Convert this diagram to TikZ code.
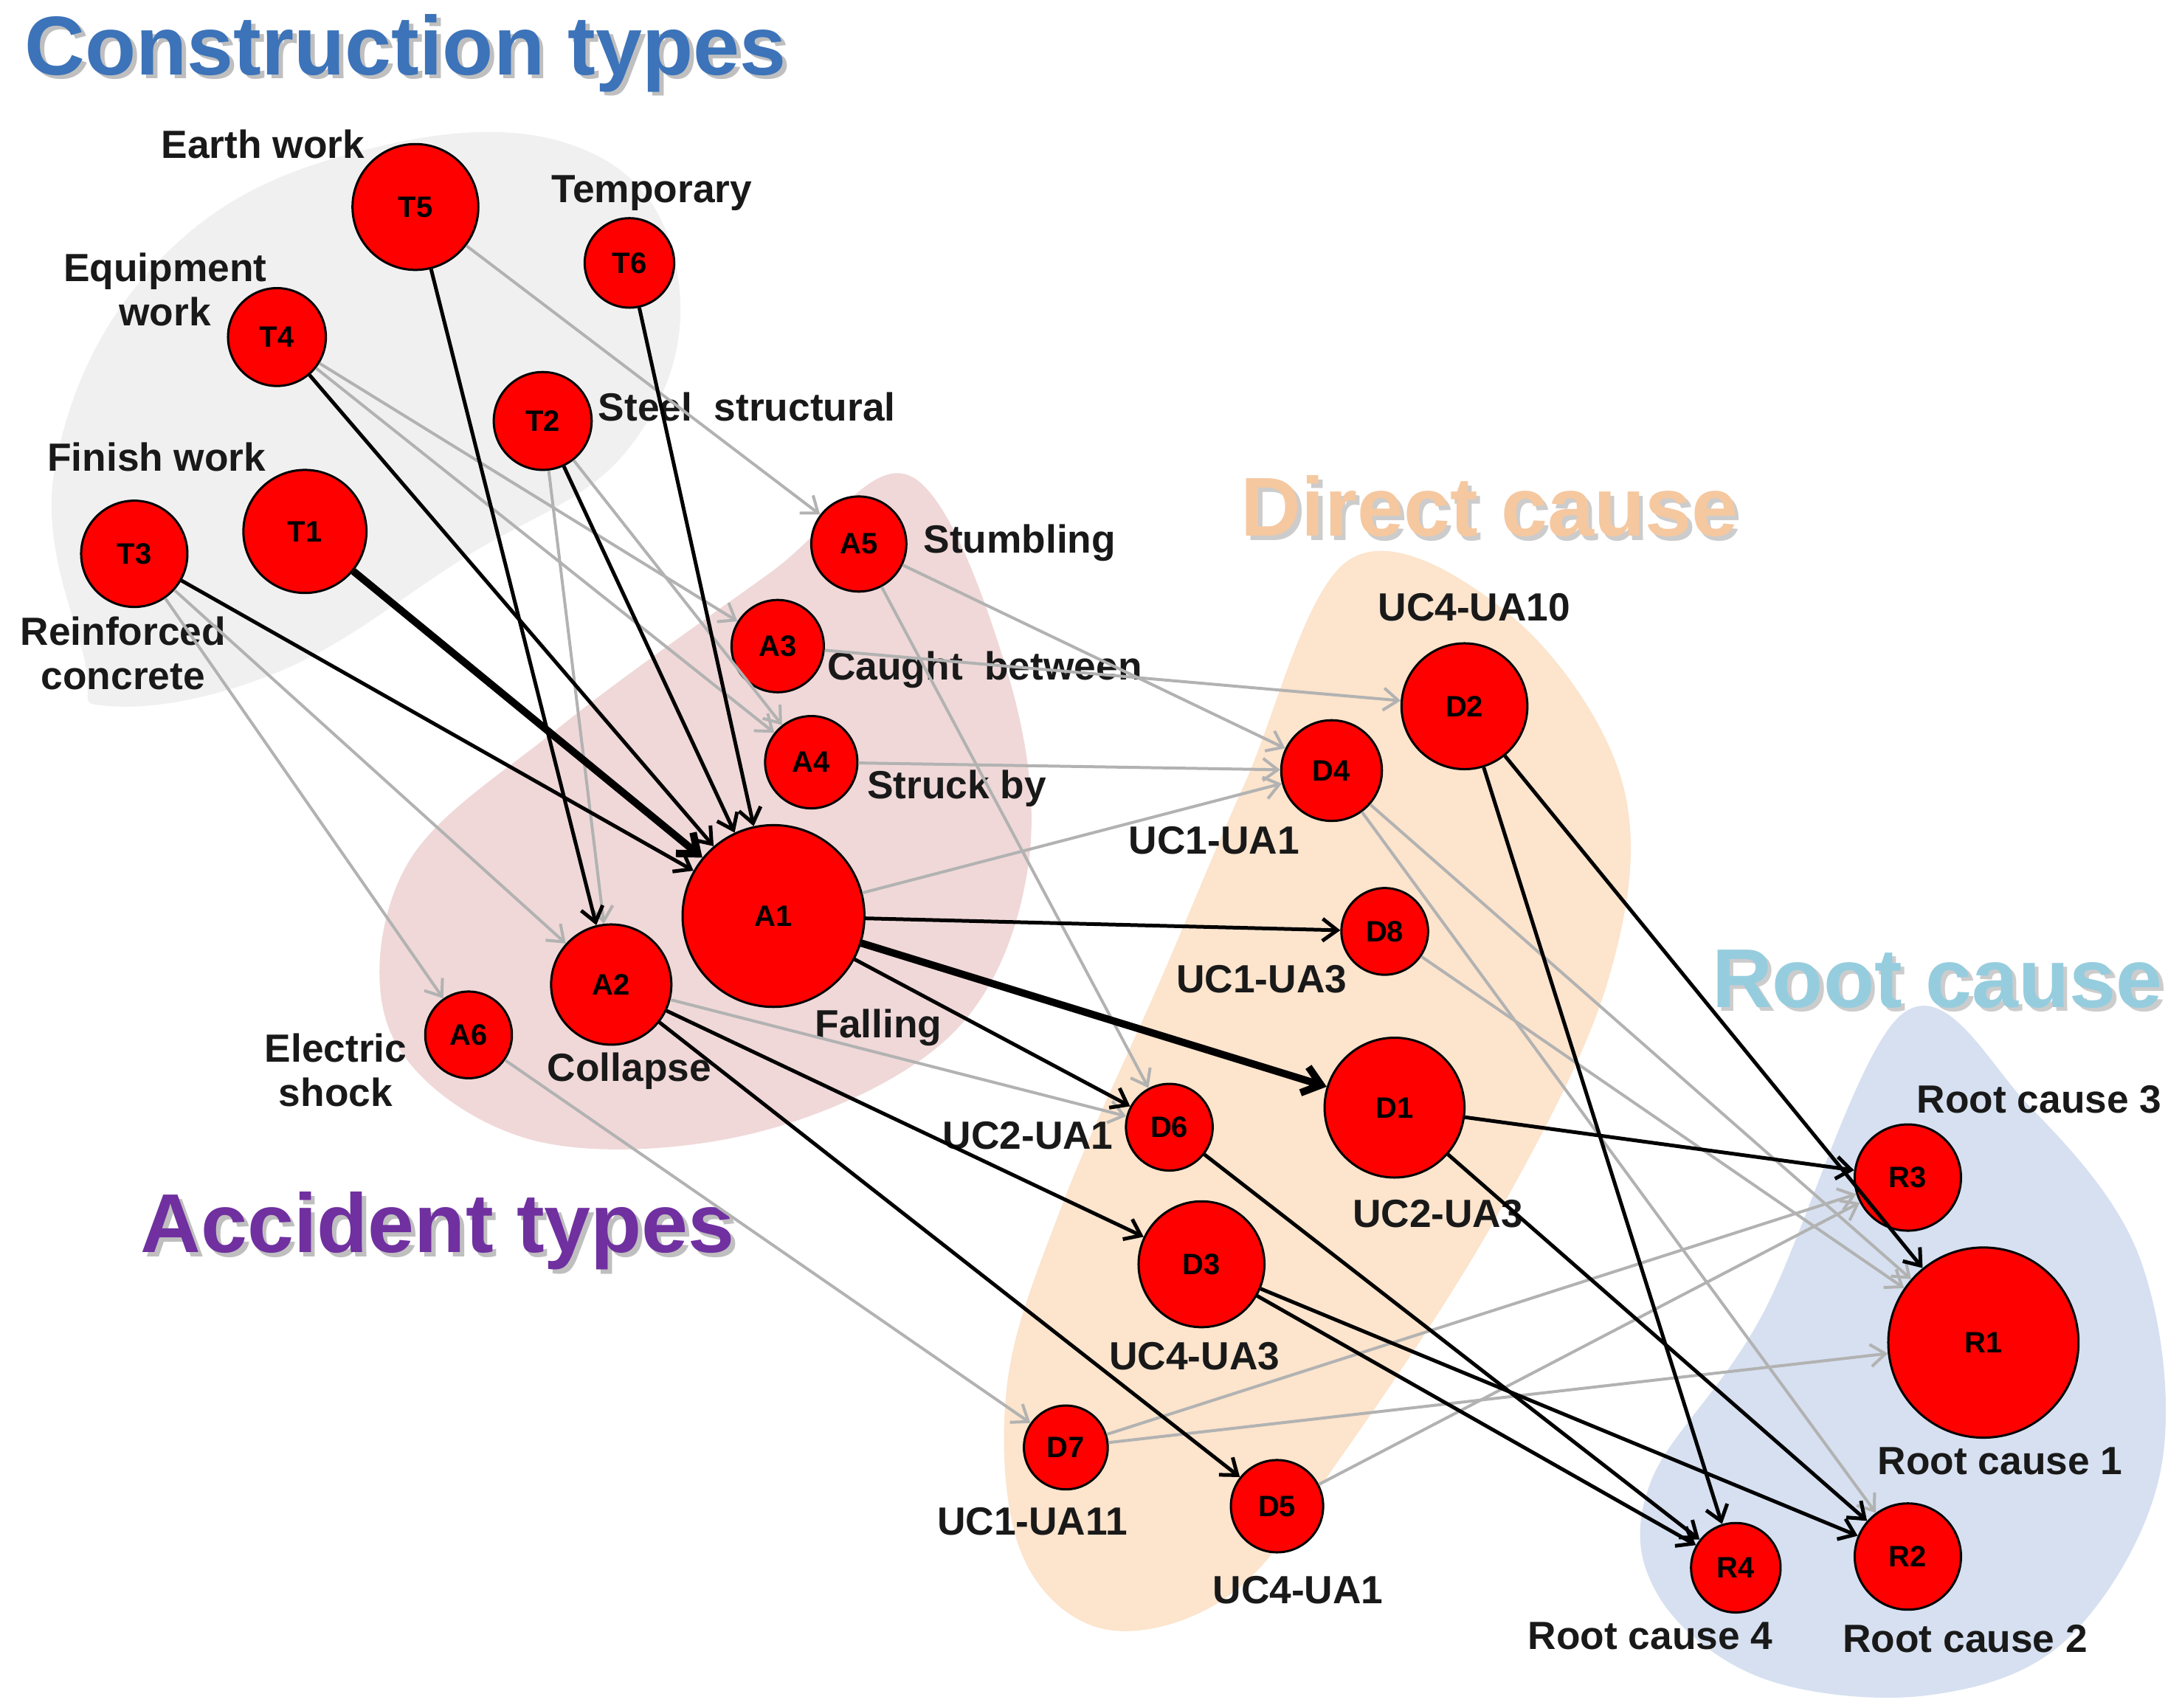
\documentclass[tikz,border=0pt]{standalone}
\usepackage{fontspec}
\setmainfont{Liberation Sans}
\usetikzlibrary{arrows.meta}
\definecolor{ctc}{RGB}{60,115,185}
\definecolor{dcc}{RGB}{245,200,160}
\definecolor{rcc}{RGB}{150,205,222}
\definecolor{atc}{RGB}{112,48,160}
\definecolor{pinkb}{RGB}{240,216,216}
\definecolor{oranb}{RGB}{252,228,205}
\definecolor{blueb}{RGB}{214,224,240}
\begin{document}
\begin{tikzpicture}[x=0.02cm,y=-0.02cm,
 nd/.style={circle,draw=black,line width=0.9pt,fill=red,inner sep=0pt,font=\fontsize{12}{12}\selectfont\bfseries},
 lb/.style={font=\fontsize{16}{18}\selectfont\bfseries,align=center,text=black!90},
 ttl/.style={font=\fontsize{34}{36}\selectfont\bfseries},
 blk/.style={draw=black,line width=1.5pt,-{Straight Barb[length=6pt,width=9pt]}},
 thk/.style={draw=black,line width=3pt,-{Straight Barb[length=7pt,width=11pt]}},
 gry/.style={draw=black!30,line width=1.2pt,-{Straight Barb[length=6pt,width=9pt]}}]
\useasboundingbox (0,0) rectangle (1560,1221);
% blobs
\fill[black!6] plot[smooth cycle,tension=0.7] coordinates{(60,470)(40,330)(120,180)(270,105)(420,108)(485,200)(450,320)(330,400)(200,480)(80,505)};
\fill[pinkb] plot[smooth cycle,tension=0.6] coordinates{(650,340)(720,480)(735,620)(680,740)(540,810)(380,815)(280,740)(290,620)(400,520)(550,410)};
\fill[oranb] plot[smooth cycle,tension=0.6] coordinates{(965,400)(1080,440)(1160,560)(1150,700)(1070,870)(960,1040)(880,1140)(790,1165)(730,1110)(720,990)(760,860)(830,700)(890,560)};
\fill[blueb] plot[smooth cycle,tension=0.6] coordinates{(1360,725)(1450,790)(1530,900)(1545,1050)(1480,1170)(1380,1212)(1260,1200)(1185,1140)(1180,1060)(1260,940)};
% titles
\node[ttl,text=black!25] at (293,41) {Construction types};
\node[ttl,text=ctc] at (290,38) {Construction types};
\node[ttl,text=black!20] at (1068,365) {Direct cause};
\node[ttl,text=dcc] at (1065,362) {Direct cause};
\node[ttl,text=black!20] at (1388,703) {Root cause};
\node[ttl,text=rcc] at (1385,700) {Root cause};
\node[ttl,text=black!25] at (316,883) {Accident types};
\node[ttl,text=atc] at (313,880) {Accident types};
% nodes
\node[nd,minimum size=1.8cm] (T5) at (297,148) {T5};
\node[nd,minimum size=1.28cm] (T6) at (450,188) {T6};
\node[nd,minimum size=1.4cm] (T4) at (198,241) {T4};
\node[nd,minimum size=1.4cm] (T2) at (388,301) {T2};
\node[nd,minimum size=1.76cm] (T1) at (218,380) {T1};
\node[nd,minimum size=1.52cm] (T3) at (96,396) {T3};
\node[nd,minimum size=1.36cm] (A5) at (614,389) {A5};
\node[nd,minimum size=1.32cm] (A3) at (556,462) {A3};
\node[nd,minimum size=1.32cm] (A4) at (580,545) {A4};
\node[nd,minimum size=2.6cm] (A1) at (553,655) {A1};
\node[nd,minimum size=1.72cm] (A2) at (437,704) {A2};
\node[nd,minimum size=1.24cm] (A6) at (335,740) {A6};
\node[nd,minimum size=1.8cm] (D2) at (1047,505) {D2};
\node[nd,minimum size=1.44cm] (D4) at (952,551) {D4};
\node[nd,minimum size=1.24cm] (D8) at (990,666) {D8};
\node[nd,minimum size=2cm] (D1) at (997,792) {D1};
\node[nd,minimum size=1.24cm] (D6) at (836,806) {D6};
\node[nd,minimum size=1.8cm] (D3) at (859,904) {D3};
\node[nd,minimum size=1.2cm] (D7) at (762,1035) {D7};
\node[nd,minimum size=1.32cm] (D5) at (913,1077) {D5};
\node[nd,minimum size=1.52cm] (R3) at (1364,842) {R3};
\node[nd,minimum size=2.72cm] (R1) at (1418,960) {R1};
\node[nd,minimum size=1.28cm] (R4) at (1241,1121) {R4};
\node[nd,minimum size=1.52cm] (R2) at (1364,1113) {R2};
% labels
\node[lb] at (188,103) {Earth work};
\node[lb] at (466,138) {Temporary};
\node[lb] at (118,207) {Equipment\\work};
\node[lb] at (534,291) {Steel\ \ structural};
\node[lb] at (112,327) {Finish work};
\node[lb] at (88,467) {Reinforced\\concrete};
\node[lb] at (729,388) {Stumbling};
\node[lb] at (704,479) {Caught\ \ between};
\node[lb] at (684,564) {Struck by};
\node[lb] at (628,735) {Falling};
\node[lb] at (450,766) {Collapse};
\node[lb] at (240,765) {Electric\\shock};
\node[lb] at (1054,434) {UC4-UA10};
\node[lb] at (868,601) {UC1-UA1};
\node[lb] at (902,700) {UC1-UA3};
\node[lb] at (735,812) {UC2-UA1};
\node[lb] at (1028,868) {UC2-UA3};
\node[lb] at (854,970) {UC4-UA3};
\node[lb] at (738,1088) {UC1-UA11};
\node[lb] at (928,1137) {UC4-UA1};
\node[lb] at (1458,786) {Root cause 3};
\node[lb] at (1430,1045) {Root cause 1};
\node[lb] at (1180,1170) {Root cause 4};
\node[lb] at (1405,1172) {Root cause 2};
% gray edges
\foreach \a/\b in {T5/A5,T4/A3,T4/A4,T2/A4,T2/A2,T3/A2,T3/A6,A5/D4,A5/D6,A3/D2,A4/D4,A1/D4,A2/D6,A6/D7,D4/R2,D4/R1,D8/R1,D7/R3,D7/R1,D5/R3}
  \draw[gry] (\a) -- (\b);
% black edges
\foreach \a/\b in {T5/A2,T6/A1,T4/A1,T2/A1,T3/A1,A1/D8,A1/D6,A2/D3,A2/D5,D2/R1,D2/R4,D1/R3,D1/R2,D6/R4,D3/R4,D3/R2}
  \draw[blk] (\a) -- (\b);
\draw[thk] (T1) -- (A1);
\draw[thk] (A1) -- (D1);
\end{tikzpicture}
\end{document}
